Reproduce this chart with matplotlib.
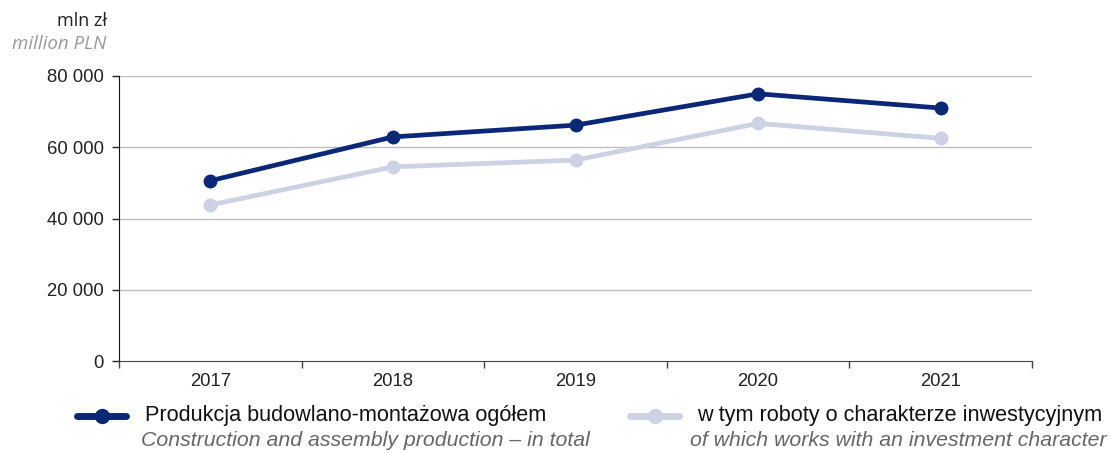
import matplotlib
matplotlib.use("Agg")
import matplotlib.pyplot as plt
from matplotlib.lines import Line2D

years = ["2017", "2018", "2019", "2020", "2021"]
total = [50600, 62900, 66200, 75000, 71000]
investment = [43800, 54500, 56400, 66700, 62500]
yticks = [0, 20000, 40000, 60000, 80000]
ytick_labels = ["0", "20 000", "40 000", "60 000", "80 000"]

label_total_pl = "Produkcja budowlano-montażowa ogółem"
label_total_en = "Construction and assembly production – in total"
label_inv_pl = "w tym roboty o charakterze inwestycyjnym"
label_inv_en = "of which works with an investment character"

DARK = "#0b2777"
LIGHT = "#ccd2e4"
W, H = 1111, 453

fig = plt.figure(figsize=(W / 100, H / 100), dpi=100)
ax = fig.add_axes([119 / W, 1 - 361 / H, (1032 - 119) / W, (361 - 76) / H])

x = list(range(len(years)))
ax.plot(x, investment, color=LIGHT, lw=3.4, marker="o", ms=9, zorder=3, solid_capstyle="round")
ax.plot(x, total, color=DARK, lw=3.4, marker="o", ms=9, zorder=4, solid_capstyle="round")

ax.set_xlim(-0.5, 4.5)
ax.set_ylim(0, 80000)
ax.set_yticks(yticks)
ax.set_yticklabels(ytick_labels, fontfamily="Liberation Sans", fontsize=13.3, color="#222222")
ax.set_xticks(x)
ax.set_xticklabels(years, fontfamily="Liberation Sans", fontsize=13.3, color="#222222")
ax.tick_params(axis="x", length=0, pad=9)
ax.set_xticks([i - 0.5 for i in range(len(years) + 1)], minor=True)
ax.tick_params(axis="x", which="minor", length=5, color="#444444", width=1)
ax.tick_params(axis="y", length=5, color="#222222", width=1, pad=6)

for v in yticks[1:]:
    ax.axhline(v, color="#bdbdbd", lw=1, zorder=1)

for s in ["top", "right"]:
    ax.spines[s].set_visible(False)
ax.spines["left"].set_color("#111111")
ax.spines["bottom"].set_color("#444444")

fig.text(107 / W, 1 - 21 / H, "mln zł", ha="right", va="center", fontfamily="Open Sans",
         fontsize=13, color="#222222")
fig.text(106 / W, 1 - 44 / H, "million PLN", ha="right", va="center", fontfamily="Open Sans",
         fontsize=13.5, style="italic", color="#999999")

# legend
def legend_entry(x0, x1, xt, xi, color, pl, en):
    yl = 1 - 416 / H
    fig.add_artist(Line2D([x0 / W, x1 / W], [yl, yl], color=color, lw=5, solid_capstyle="round",
                          transform=fig.transFigure))
    fig.add_artist(Line2D([(x0 + x1) / 2 / W], [yl], color=color, marker="o", ms=10,
                          transform=fig.transFigure))
    fig.text(xt / W, yl, pl, ha="left", va="center", fontfamily="Liberation Sans", fontsize=15.6,
             color="#111111")
    fig.text(xi / W, 1 - 441 / H, en, ha="left", va="center", fontfamily="Liberation Sans",
             fontsize=15.3, style="italic", color="#666666")

legend_entry(77, 126, 145, 141, DARK, label_total_pl, label_total_en)
legend_entry(630, 679, 697, 690, LIGHT, label_inv_pl, label_inv_en)

fig.savefig("out.png", dpi=100)
